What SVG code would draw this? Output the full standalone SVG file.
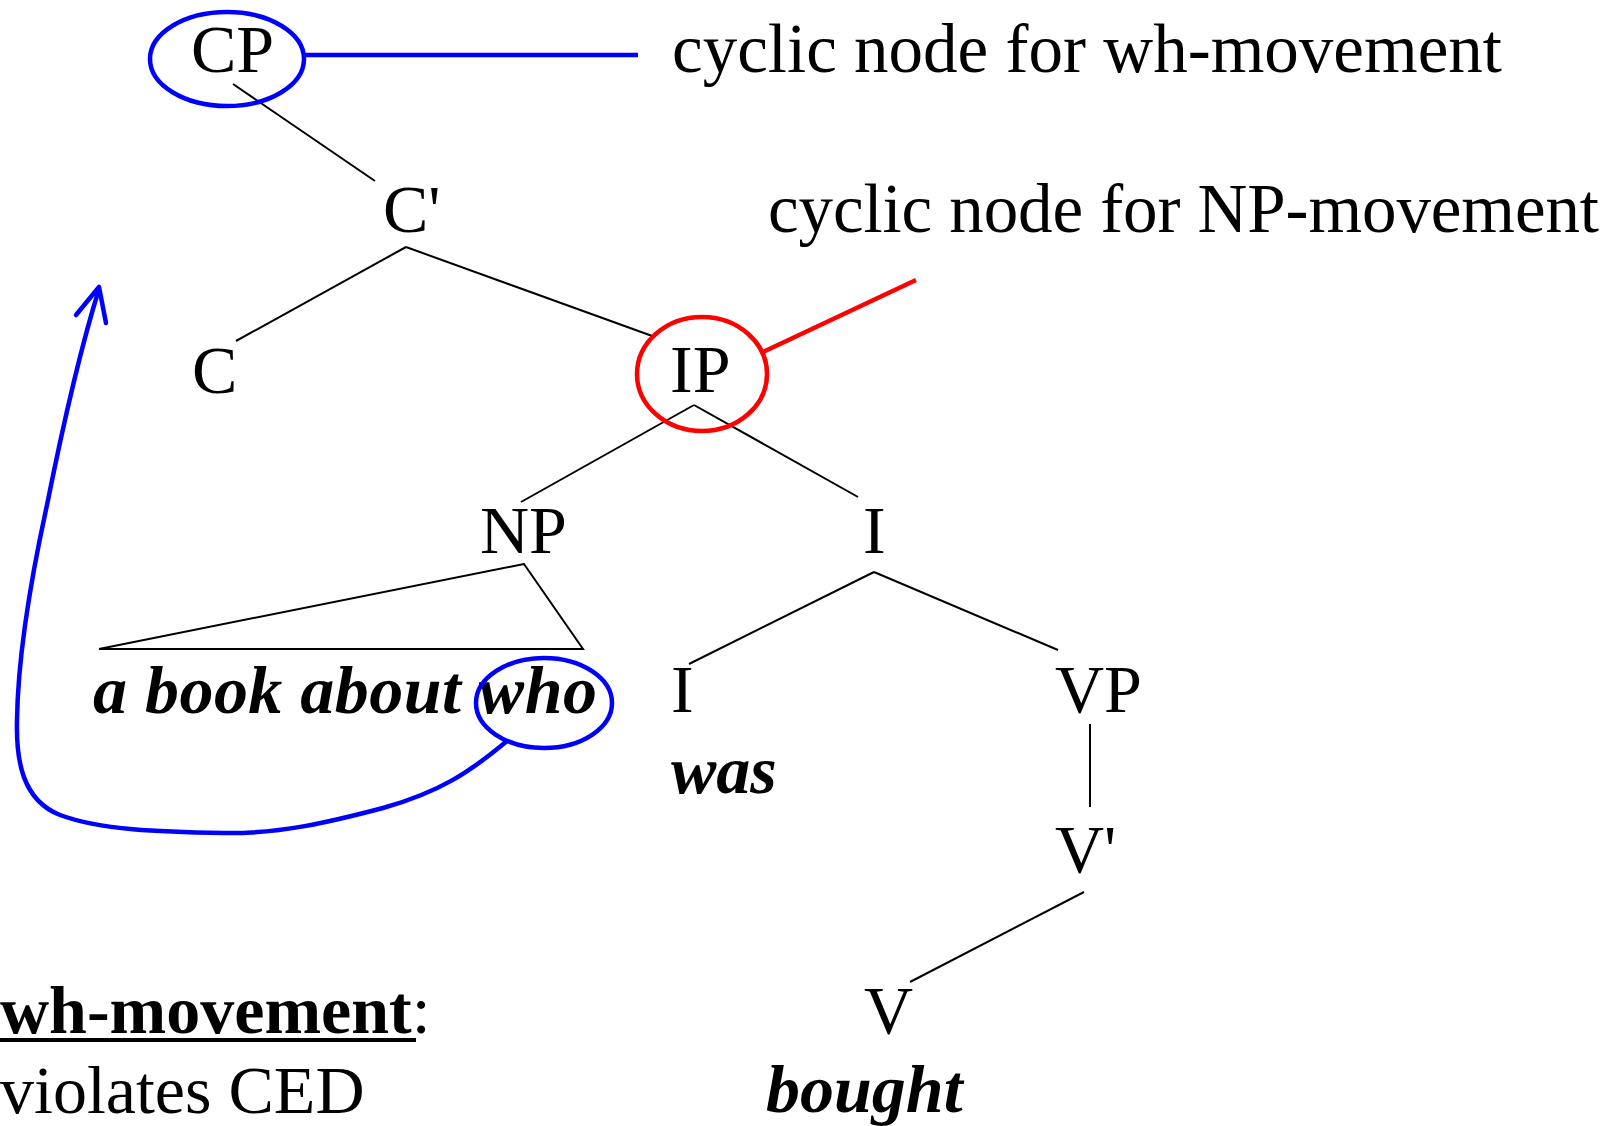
<svg xmlns="http://www.w3.org/2000/svg" width="1621" height="1126" viewBox="0 0 1621 1126">
<style>
text{font-family:"Liberation Serif","Times New Roman",serif;font-size:68px;fill:#000}
.bi{font-weight:bold;font-style:italic}
.b{font-weight:bold}
.edge{stroke:#000;stroke-width:2;fill:none}
.blue{stroke:#0000ff;stroke-width:4.5;fill:none}
.red{stroke:#ff0000;stroke-width:4.5;fill:none}
</style>
<rect width="1621" height="1126" fill="#fff"/>
<g id="connectors">
<line class="edge" x1="233" y1="84" x2="375" y2="181"/>
<line class="edge" x1="406" y1="247" x2="236" y2="341"/>
<line class="edge" x1="406" y1="247" x2="655" y2="337"/>
<line class="edge" x1="694" y1="405" x2="521" y2="502"/>
<line class="edge" x1="694" y1="405" x2="858" y2="497"/>
<polygon class="edge" points="524,564 99,649 583,649"/>
<line class="edge" x1="874" y1="572" x2="689" y2="664"/>
<line class="edge" x1="874" y1="572" x2="1058" y2="650"/>
<line class="edge" x1="1090" y1="724" x2="1090" y2="807"/>
<line class="edge" x1="1084" y1="892" x2="910" y2="982"/>
<line class="blue" x1="304" y1="55" x2="638" y2="55"/>
<line class="red" x1="763" y1="352" x2="916" y2="280"/>
<path class="blue" d="M507,741 C470,772 440,792 383,808 C330,822 280,834 224,833 C160,832 100,830 60,815 C22,800 16,760 17,720 C18,650 35,560 47,505 C60,440 80,350 99,289"/>
<polyline class="blue" points="76,315 99,287 106,323" stroke-linecap="round" stroke-linejoin="round"/>
</g>
<g id="CP"><ellipse class="blue" cx="227" cy="59" rx="77" ry="47"/><text x="191" y="72">CP</text></g>
<g id="label-wh"><text x="672" y="72" style="font-size:69px" textLength="830">cyclic node for wh-movement</text></g>
<g id="Cbar"><text x="383" y="232">C'</text></g>
<g id="label-np"><text x="768" y="232" style="font-size:69px" textLength="831">cyclic node for NP-movement</text></g>
<g id="C"><text x="192" y="393">C</text></g>
<g id="IP"><ellipse class="red" cx="702" cy="374" rx="65" ry="57"/><text x="670" y="392">IP</text></g>
<g id="NP"><text x="480" y="553">NP</text></g>
<g id="I1"><text x="863" y="553">I</text></g>
<g id="NPtext"><text class="bi" x="93" y="713" textLength="504">a book about who</text><ellipse class="blue" cx="544" cy="703" rx="68" ry="45"/></g>
<g id="I2"><text x="671" y="712">I</text><text class="bi" x="671" y="793">was</text></g>
<g id="VP"><text x="1055" y="712">VP</text></g>
<g id="Vbar"><text x="1055" y="872">V'</text></g>
<g id="V"><text x="864" y="1033">V</text><text class="bi" x="766" y="1112">bought</text></g>
<g id="note"><text x="0" y="1033"><tspan class="b">wh-movement</tspan>:</text>
<line x1="0" y1="1040" x2="416" y2="1040" stroke="#000" stroke-width="4"/>
<text x="0" y="1113">violates CED</text></g>
</svg>
